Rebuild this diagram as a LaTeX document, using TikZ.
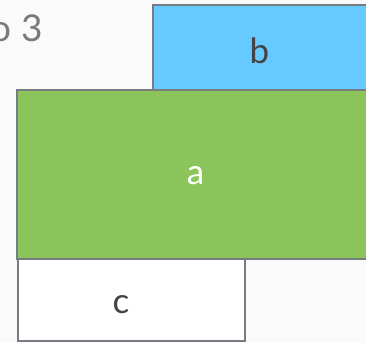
\documentclass[tikz,border=0pt]{standalone}
\usepackage{fontspec}
\setmainfont{Lato}
\definecolor{bgc}{HTML}{FAFAFA}
\definecolor{edge}{HTML}{767C82}
\definecolor{bluef}{HTML}{66C9FF}
\definecolor{greenf}{HTML}{8AC45A}
\definecolor{darktxt}{HTML}{444444}
\definecolor{greytxt}{HTML}{7A7A7A}
\begin{document}
\begin{tikzpicture}[x=1pt,y=-1pt,
  boxstyle/.style={draw=edge,line width=1.8pt},
  lbl/.style={font=\fontsize{35}{40}\selectfont,anchor=base,inner sep=0pt}]
\useasboundingbox (0,0) rectangle (366,343);
\fill[bgc] (0,0) rectangle (366,343);
\clip (0,0) rectangle (366,343);
\node[anchor=base east,inner sep=0pt,text=greytxt,font=\fontsize{37}{42}\selectfont] (title) at (43,41) {o 3};
\draw[boxstyle,fill=bluef] (153,5) rectangle (380,90);
\node[lbl,text=darktxt] (b) at (259.5,63) {b};
\draw[boxstyle,fill=greenf] (17,90) rectangle (380,259);
\node[lbl,text=white] (a) at (195.5,184) {a};
\draw[boxstyle,fill=white] (18,259) rectangle (245,341);
\node[lbl,text=darktxt] (c) at (121,313) {c};
\end{tikzpicture}
\end{document}
